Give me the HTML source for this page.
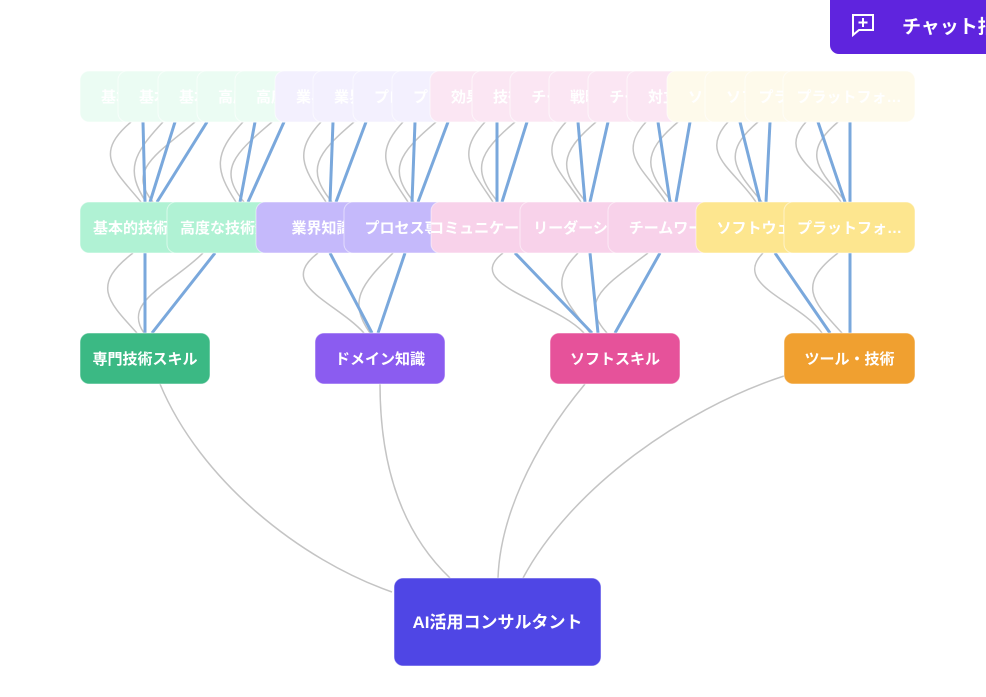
<!DOCTYPE html>
<html><head><meta charset="utf-8"><style>
html,body{margin:0;padding:0;background:#fff;width:986px;height:697px;overflow:hidden;}
svg{position:absolute;left:0;top:0;font-family:"Liberation Sans","Noto Sans CJK JP",sans-serif;}
</style></head><body>
<svg width="986" height="697" viewBox="0 0 986 697">
<g fill="none" stroke="#c4c4c4" stroke-width="1.5" id="gray"></g>
<g fill="none" stroke="#7aa8dc" stroke-width="3" id="blue"></g>
<g id="nodes"></g>
<rect x="830" y="-10" width="170" height="64" rx="9" fill="#5f24de"/>
<g stroke="#fff" stroke-width="2" fill="none"><path d="M853 15 h20 v15 h-14 l-6 5 z"/><path d="M863 18 v9 M858.5 22.5 h9"/></g>
<text x="902" y="33" fill="#fff" font-size="19" font-weight="bold">チャット指示</text>
</svg>
<script>
const NS="http://www.w3.org/2000/svg";
const g=document.getElementById('gray'),b=document.getElementById('blue'),n=document.getElementById('nodes');
function el(p,t,a){const e=document.createElementNS(NS,t);for(const k in a)e.setAttribute(k,a[k]);p.appendChild(e);return e;}
function line(x1,y1,x2,y2){el(b,'line',{x1,y1,x2,y2});}
function arc(x1,y1,x2,y2,d){const m=(y2-y1);el(g,'path',{d:`M${x1} ${y1} C${x1-d} ${y1+m*0.4} ${x2-d*0.7} ${y2-m*0.4} ${x2} ${y2}`});}
const tm=[[143,145],[175,150],[207,157],[255,240],[284,248],[333,330],[366,336],[415,412],[448,418],[497,497],[527,502],[578,585],[608,590],[658,670],[690,676],[740,760],[770,766],[818,845],[850,850]];
tm.forEach(([a,c],i)=>{line(a,122,c,202);arc(a-12,122,c-4,202,i%2?30:38);});
[[145,145],[215,152],[330,372],[405,378],[515,592],[590,598],[660,615],[775,830],[850,850]].forEach(([a,c],i)=>{line(a,253,c,333);arc(a-12,253,c-8,333,i%2?32:42);});
el(g,'path',{d:'M160 384 C200 480 300 560 392 592'});
el(g,'path',{d:'M380 384 C380 480 410 540 450 578'});
el(g,'path',{d:'M585 384 C530 450 500 520 498 578'});
el(g,'path',{d:'M784 376 C680 410 570 490 523 578'});
function node(x,y,w,h,fill,txt,fs,stroke){
  el(n,'rect',{x,y,width:w,height:h,rx:9,fill,stroke:stroke||'rgba(255,255,255,0.5)','stroke-width':1});
  const t=el(n,'text',{x:x+w/2,y:y+h/2+fs*0.36,'text-anchor':'middle',fill:'#fff','font-size':fs,'font-weight':'bold'});t.textContent=txt;
}
const tx=[80,118,158,197,235,275,313,353,392,430,472,510,549,588,627,667,705,745,783];
const tl=['基本的な技術','基本的な技術','基本的な技術','高度な技術知','高度な技術知','業界知識の応','業界知識の応','プロセスの改','プロセスの改','効果的な説明','技術説明能力','チームで働く','戦略的な思考','チームで働く','対立解決能力','ソフトウェア','ソフトウェア','プラットフォ…','プラットフォ…'];
tx.forEach((x,i)=>{const c=i<5?'#ebfcf3':i<9?'#f3f0fe':i<15?'#fbe6f3':'#fefaeb';node(x,71,132,51,c,tl[i],15,'rgba(255,255,255,0.6)');});
const mx=[80,167,256,344,431,520,608,696,784];
const ml=['基本的技術知識','高度な技術知識','業界知識','プロセス専門','コミュニケーション','リーダーシップ','チームワーク','ソフトウェア','プラットフォ…'];
const mc=['#b0f2d4','#b0f2d4','#c5b9fb','#c5b9fb','#f8d2ea','#f8d2ea','#f8d2ea','#fde68f','#fde68f'];
mx.forEach((x,i)=>{node(x,202,131,51,mc[i],ml[i],15);});
node(80,333,130,51,'#3bb984','専門技術スキル',15);
node(315,333,130,51,'#8b5cf0','ドメイン知識',15);
node(550,333,130,51,'#e6529a','ソフトスキル',15);
node(784,333,131,51,'#f0a030','ツール・技術',15);
node(394,578,207,88,'#4f46e5','AI活用コンサルタント',17);
</script>
</body></html>
